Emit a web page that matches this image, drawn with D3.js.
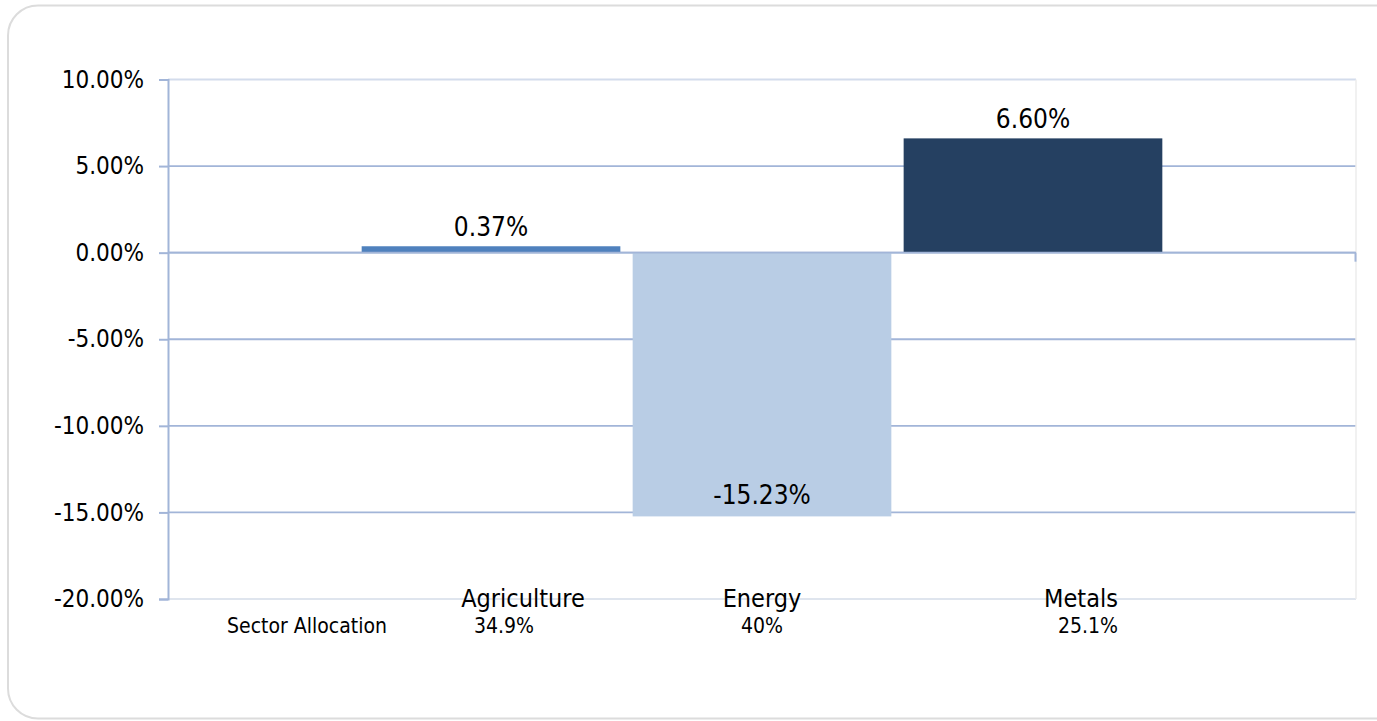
<!DOCTYPE html>
<html>
<head>
<meta charset="utf-8">
<script src="https://cdn.jsdelivr.net/npm/d3@7/dist/d3.min.js"></script>
<style>
  html, body { margin: 0; padding: 0; background: #fff; }
  svg { display: block; }
  text { font-family: "DejaVu Sans Condensed", "DejaVu Sans", sans-serif; fill: #000; }
</style>
</head>
<body>
<svg id="chart" width="1377" height="721"></svg>
<script>
// Sector returns, one bar per sector
const sectors = ["Agriculture", "Energy", "Metals"];
const returns = [0.0037, -0.1523, 0.0660];
const returnLabels = ["0.37%", "-15.23%", "6.60%"];
const sectorColors = ["#4f81bd", "#b9cde5", "#254061"];

// Allocation row printed under the axis
const allocationTitle = "Sector Allocation";
const allocations = ["34.9%", "40%", "25.1%"];

// Value axis
const yTicks = [0.10, 0.05, 0, -0.05, -0.10, -0.15, -0.20];
const yTickLabels = ["10.00%", "5.00%", "0.00%", "-5.00%", "-10.00%", "-15.00%", "-20.00%"];

const svg = d3.select("#chart");

// Rounded outer frame
svg.append("rect")
  .attr("x", 8).attr("y", 5.5)
  .attr("width", 1400).attr("height", 713)
  .attr("rx", 30).attr("ry", 30)
  .attr("fill", "#fff")
  .attr("stroke", "#dcdcdc")
  .attr("stroke-width", 2);

const plot = { left: 168, right: 1356, top: 79.5, bottom: 599 };

const y = d3.scaleLinear().domain([-0.20, 0.10]).range([plot.bottom, plot.top]);

// Three bars grouped in the middle of the plot
const x = d3.scaleBand()
  .domain(sectors)
  .range([plot.left, plot.right])
  .paddingInner(0.0454)
  .paddingOuter(0.7147);

const g = svg.append("g");

// Horizontal gridlines
g.selectAll("line.grid")
  .data(yTicks)
  .join("line")
  .attr("class", "grid")
  .attr("x1", plot.left).attr("x2", plot.right)
  .attr("y1", d => y(d)).attr("y2", d => y(d))
  .attr("stroke", (d, i) => i === 0 ? "#d3dcec" : (d === -0.20 ? "#dfe5ee" : "#a2b5d8"))
  .attr("stroke-width", (d, i) => i === 0 ? 2 : 1.8);

// Right edge of the plot area
g.append("line")
  .attr("x1", plot.right).attr("x2", plot.right)
  .attr("y1", plot.top).attr("y2", plot.bottom)
  .attr("stroke", "#ececec").attr("stroke-width", 1.5);

// Bars
g.selectAll("rect.bar")
  .data(sectors)
  .join("rect")
  .attr("class", "bar")
  .attr("x", d => x(d))
  .attr("width", x.bandwidth())
  .attr("y", (d, i) => y(Math.max(0, returns[i])))
  .attr("height", (d, i) => Math.abs(y(returns[i]) - y(0)))
  .attr("fill", (d, i) => sectorColors[i]);

// Zero line (category axis) with end tick
g.append("line")
  .attr("x1", plot.left).attr("x2", plot.right)
  .attr("y1", y(0)).attr("y2", y(0))
  .attr("stroke", "#a2b5d8").attr("stroke-width", 1.8);
g.append("line")
  .attr("x1", plot.right - 0.5).attr("x2", plot.right - 0.5)
  .attr("y1", y(0)).attr("y2", y(0) + 9)
  .attr("stroke", "#a2b5d8").attr("stroke-width", 2);

// Value axis line, ticks and labels
const yAxis = d3.axisLeft(y)
  .tickValues(yTicks)
  .tickFormat((d, i) => yTickLabels[i])
  .tickSize(9)
  .tickPadding(15);
const ya = svg.append("g")
  .attr("transform", `translate(${plot.left},0)`)
  .call(yAxis);
ya.select(".domain").attr("stroke", "#a2b5d8").attr("stroke-width", 2);
ya.selectAll(".tick line").attr("stroke", "#a2b5d8").attr("stroke-width", 2);
ya.selectAll(".tick text")
  .attr("font-size", 24)
  .attr("font-family", "DejaVu Sans Condensed, DejaVu Sans, sans-serif")
  .attr("fill", "#000");

// Value labels on bars
g.selectAll("text.val")
  .data(sectors)
  .join("text")
  .attr("class", "val")
  .attr("x", d => x(d) + x.bandwidth() / 2)
  .attr("y", (d, i) => returns[i] >= 0 ? y(returns[i]) - 10 : y(returns[i]) - 12)
  .attr("text-anchor", "middle")
  .attr("font-size", 26)
  .text((d, i) => returnLabels[i]);

// Category names along the bottom edge
const catOffsets = [32, 0, 48];
g.selectAll("text.cat")
  .data(sectors)
  .join("text")
  .attr("class", "cat")
  .attr("x", (d, i) => x(d) + x.bandwidth() / 2 + catOffsets[i])
  .attr("y", plot.bottom + 8)
  .attr("text-anchor", "middle")
  .attr("font-size", 25)
  .text(d => d);

// Allocation row
const allocOffsets = [13, 0, 55];
g.append("text")
  .attr("x", 307)
  .attr("y", 633)
  .attr("text-anchor", "middle")
  .attr("font-size", 21)
  .text(allocationTitle);
g.selectAll("text.alloc")
  .data(sectors)
  .join("text")
  .attr("class", "alloc")
  .attr("x", (d, i) => x(d) + x.bandwidth() / 2 + allocOffsets[i])
  .attr("y", 633)
  .attr("text-anchor", "middle")
  .attr("font-size", 21)
  .text((d, i) => allocations[i]);
</script>
</body>
</html>
